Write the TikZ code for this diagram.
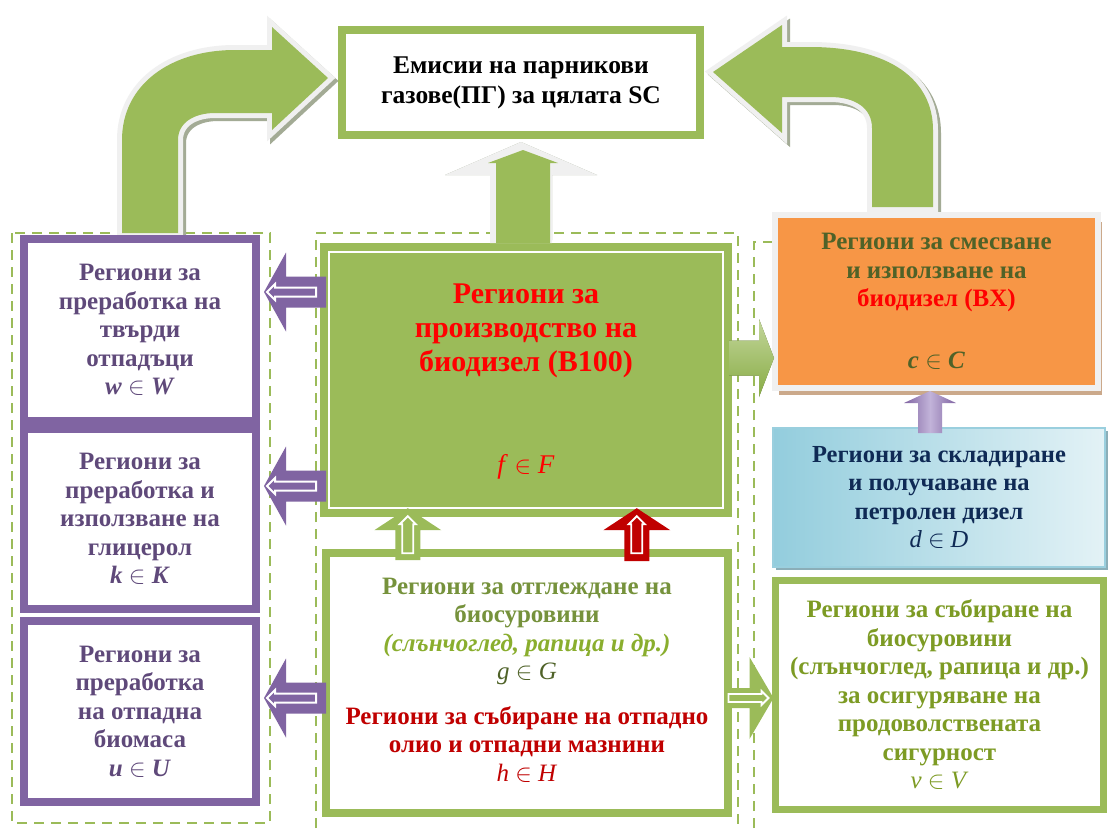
\documentclass[tikz,border=0pt]{standalone}
\usepackage{fontspec}
\setmainfont{Liberation Serif}
\usetikzlibrary{calc,shadows}
\definecolor{grn}{HTML}{9BBB59}
\definecolor{olivetxt}{HTML}{76923C}
\definecolor{yolive}{HTML}{8AAE2E}
\definecolor{collolive}{HTML}{7D9B24}
\definecolor{dkolive}{HTML}{4F6228}
\definecolor{purp}{HTML}{8064A2}
\definecolor{purptxt}{HTML}{5F497A}
\definecolor{purplight}{HTML}{C2B3D9}
\definecolor{orng}{HTML}{F79646}
\definecolor{dred}{HTML}{C00000}
\definecolor{brred}{HTML}{FF0000}
\definecolor{navy}{HTML}{0F2A55}
\definecolor{ltgrey}{HTML}{F0F0F0}
\definecolor{shadowg}{HTML}{A3AB95}
\definecolor{bluedark}{HTML}{93CDDD}
\definecolor{bluelight}{HTML}{E3F2F6}
\definecolor{bluebord}{HTML}{9ACFDE}
\definecolor{tanshadow}{HTML}{CBA98B}
\definecolor{arrlight}{HTML}{C3D69B}
\definecolor{arrdark}{HTML}{88AC45}

\newcommand\blkarrow[7]{\path[#1, shift={#2}, rotate=#3] (0,0) -- (-#7,#6) -- (-#7,#5) -- (-#4,#5) -- (-#4,-#5) -- (-#7,-#5) -- (-#7,-#6) -- cycle;}
\newcommand\memb[2]{\textit{#1} $\in$ \textit{#2}}

\tikzset{
  pbox/.style={draw=purp, line width=8pt, fill=white, minimum width=232pt, inner sep=0pt,
    align=center, text=purptxt, font=\fontsize{25}{28.5}\selectfont\bfseries},
  gbox/.style={draw=grn, line width=8pt, fill=white, inner sep=0pt, align=center},
  grpdash/.style={draw=grn, line width=2.2pt, dash pattern=on 10pt off 7pt},
  thinline/.style={line width=1.3pt},
  txt/.style={align=center, inner sep=0pt, font=\fontsize{25}{28.5}\selectfont\bfseries},
}

\begin{document}
\begin{tikzpicture}[x=1pt,y=-1pt]
\useasboundingbox (0,0) rectangle (1111,830);
\fill[white] (0,0) rectangle (1111,830);

% dashed groups
\draw[grpdash] (12,233) rectangle (270,823);
\draw[grpdash] (316,845) -- (316,233) -- (738,233) -- (738,845);
\draw[grpdash] (754,845) -- (754,242) -- (1100,242);

% top box
\node[gbox, line width=6pt, minimum width=360pt, minimum height=107pt,
  font=\fontsize{25.5}{30}\selectfont\bfseries] (emis) at (521,82.5)
  {Емисии на парникови\\газове(ПГ) за цялата SC};
\draw[grn, thinline] ([shift={(7,7)}]emis.north west) rectangle ([shift={(-7,-7)}]emis.south east);

% curved arrows
\def\larrow{(328,78) -- (272,27) -- (272,50) -- (235,50) .. controls (170,50) and (122,85) .. (122,140) -- (122,233) -- (178,233) -- (178,140) .. controls (178,122) and (195,113) .. (215,113) -- (272,113) -- (272,130) -- cycle}
\def\rarrow{(713,72) -- (782,25) -- (782,47) -- (810,47) .. controls (890,47) and (933,80) .. (933,130) -- (933,207) -- (872,207) -- (872,128) .. controls (872,108) and (855,97) .. (830,97) -- (782,97) -- (782,133) -- cycle}
\begin{scope}[shift={(3,3)}]
  \filldraw[shadowg, line width=10pt] \larrow;
  \filldraw[shadowg, line width=10pt] \rarrow;
\end{scope}
\filldraw[ltgrey, line width=10pt] \larrow;
\filldraw[ltgrey, line width=10pt] \rarrow;
\fill[grn] \larrow;
\fill[grn] \rarrow;

% left purple boxes
\node[pbox, minimum height=182pt] (w) at (140,330) {Региони за\\преработка на\\твърди\\отпадъци\\\memb{w}{W}};
\node[pbox, minimum height=180pt] (k) at (140,519) {Региони за\\преработка и\\използване на\\глицерол\\\memb{k}{K}};
\node[pbox, minimum height=181pt] (u) at (140,711.5) {Региони за\\преработка\\на отпадна\\биомаса\\\memb{u}{U}};
\foreach \n in {w,k,u}
  \draw[purp, thinline] ([shift={(7,7)}]\n.north west) rectangle ([shift={(-7,-7)}]\n.south east);

% production box
\node[fill=grn, minimum width=412pt, minimum height=274pt, inner sep=0pt] (prod) at (526,380) {};
\draw[white, line width=2pt] ([shift={(9,9)}]prod.north west) rectangle ([shift={(-9,-9)}]prod.south east);
\node[txt, text=brred, font=\fontsize{30}{34}\selectfont\bfseries] (prodtxt) at (526,331)
  {Региони за\\производство на\\биодизел (B100)};
\node[txt, text=brred, font=\fontsize{27}{30}\selectfont] (prodm) at (526,467) {\memb{f}{F}};

% top up arrow
\coordinate (ua) at (emis.south |- 0,142);
\begin{scope}[shift={(3,3)}]
  \blkarrow{fill=shadowg}{(ua)}{90}{98}{31}{76}{33}
\end{scope}
\blkarrow{fill=ltgrey}{(ua)}{90}{101}{31}{76}{33}
\blkarrow{fill=grn}{($(ua)+(2,8)$)}{90}{93}{27}{35}{13}

% growing box
\node[gbox, minimum width=402pt, minimum height=260pt] (grow) at (527,683) {};
\draw[grn, thinline] ([shift={(6.5,6.5)}]grow.north west) rectangle ([shift={(-6.5,-6.5)}]grow.south east);
\node[txt, font=\fontsize{25}{28.5}\selectfont\bfseries] (growtxt) at (527,680)
  {\textcolor{olivetxt}{Региони за отглеждане на}\\
   \textcolor{olivetxt}{биосуровини}\\
   \textcolor{yolive}{\textit{(слънчоглед, рапица и др.)}}\\
   \textcolor{dkolive}{\mdseries\memb{g}{G}}\\[16pt]
   \textcolor{dred}{Региони за събиране на отпадно}\\
   \textcolor{dred}{олио и отпадни мазнини}\\
   \textcolor{dred}{\mdseries\memb{h}{H}}};

% blending box
\node[draw=ltgrey, line width=6pt, fill=orng, minimum width=323pt, minimum height=173pt, inner sep=0pt,
  drop shadow={shadow xshift=4pt, shadow yshift=-7pt, fill=tanshadow, opacity=1},
  txt] (blend) at (936.5,301.5)
  {\textcolor{dkolive}{Региони за смесване}\\
   \textcolor{dkolive}{и използване на}\\
   \textcolor{brred}{биодизел (BX)}\\[33pt]
   \textcolor{dkolive}{\memb{c}{C}}};

% blue box
\node[draw=bluebord, line width=2pt, left color=bluedark, right color=bluelight,
  minimum width=332pt, minimum height=139pt, inner sep=0pt,
  drop shadow={shadow xshift=3pt, shadow yshift=-3pt, fill=bluedark!60!gray, opacity=1},
  txt, font=\fontsize{24.5}{28.5}\selectfont\bfseries, text=navy] (diesel) at (939,497.5)
  {Региони за складиране\\и получаване на\\петролен дизел\\{\mdseries\memb{d}{D}}};

% collection box
\node[gbox, line width=7pt, minimum width=328pt, minimum height=229pt, txt, text=collolive] (coll) at (939.5,695)
  {Региони за събиране на\\биосуровини\\(слънчоглед, рапица и др.)\\за осигуряване на\\продоволствената\\сигурност\\{\mdseries\memb{v}{V}}};

% purple left arrows
\foreach \n/\y [count=\i] in {w/292, k/486, u/698} {
  \coordinate (pa\i) at ($(\n.east |- 0,\y)+(4,0)$);
  \blkarrow{fill=purp}{(pa\i)}{180}{62}{15.5}{39.5}{22}
  \blkarrow{draw=white, line width=2pt}{($(pa\i)+(3,0)$)}{180}{49}{4.5}{8}{8}
}

% small up arrows into production
\coordinate (gu) at ($(prod.south west)+(88,-9)$);
\coordinate (ru) at ($(prod.south west)+(317,-9)$);
\blkarrow{fill=grn}{(gu)}{90}{52}{12.5}{33.5}{22}
\blkarrow{draw=white, line width=1.8pt}{($(gu)+(0,8)$)}{90}{37}{5.5}{8}{8}
\blkarrow{fill=dred}{(ru)}{90}{53}{12.5}{33.5}{22}
\blkarrow{draw=white, line width=1.8pt}{($(ru)+(0,8)$)}{90}{37}{5.5}{8}{8}

% production -> blending
\coordinate (pb) at ($(blend.west |- 0,358)+(2,0)$);
\begin{scope}[shift={(1.5,2.5)}]
  \blkarrow{fill=dkolive}{(pb)}{0}{45}{17.5}{39}{15}
\end{scope}
\blkarrow{top color=arrlight, bottom color=arrdark}{(pb)}{0}{45}{17.5}{39}{15}

% growing -> collection
\coordinate (gc) at ($(coll.west |- 0,698)+(1.5,0)$);
\blkarrow{fill=grn}{(gc)}{0}{49}{10}{41}{24}
\blkarrow{draw=white, line width=1.8pt}{($(gc)+(-5,0)$)}{0}{40}{4}{7}{7}

% diesel -> blending
\coordinate (pu) at ($(blend.south)+(-6.5,0)$);
\shade[left color=purp, right color=purp, middle color=purplight]
  (pu) -- ++(-26,12) -- ++(14,0) -- ++(0,30) -- ++(24,0) -- ++(0,-30) -- ++(14,0) -- cycle;
\end{tikzpicture}
\end{document}
